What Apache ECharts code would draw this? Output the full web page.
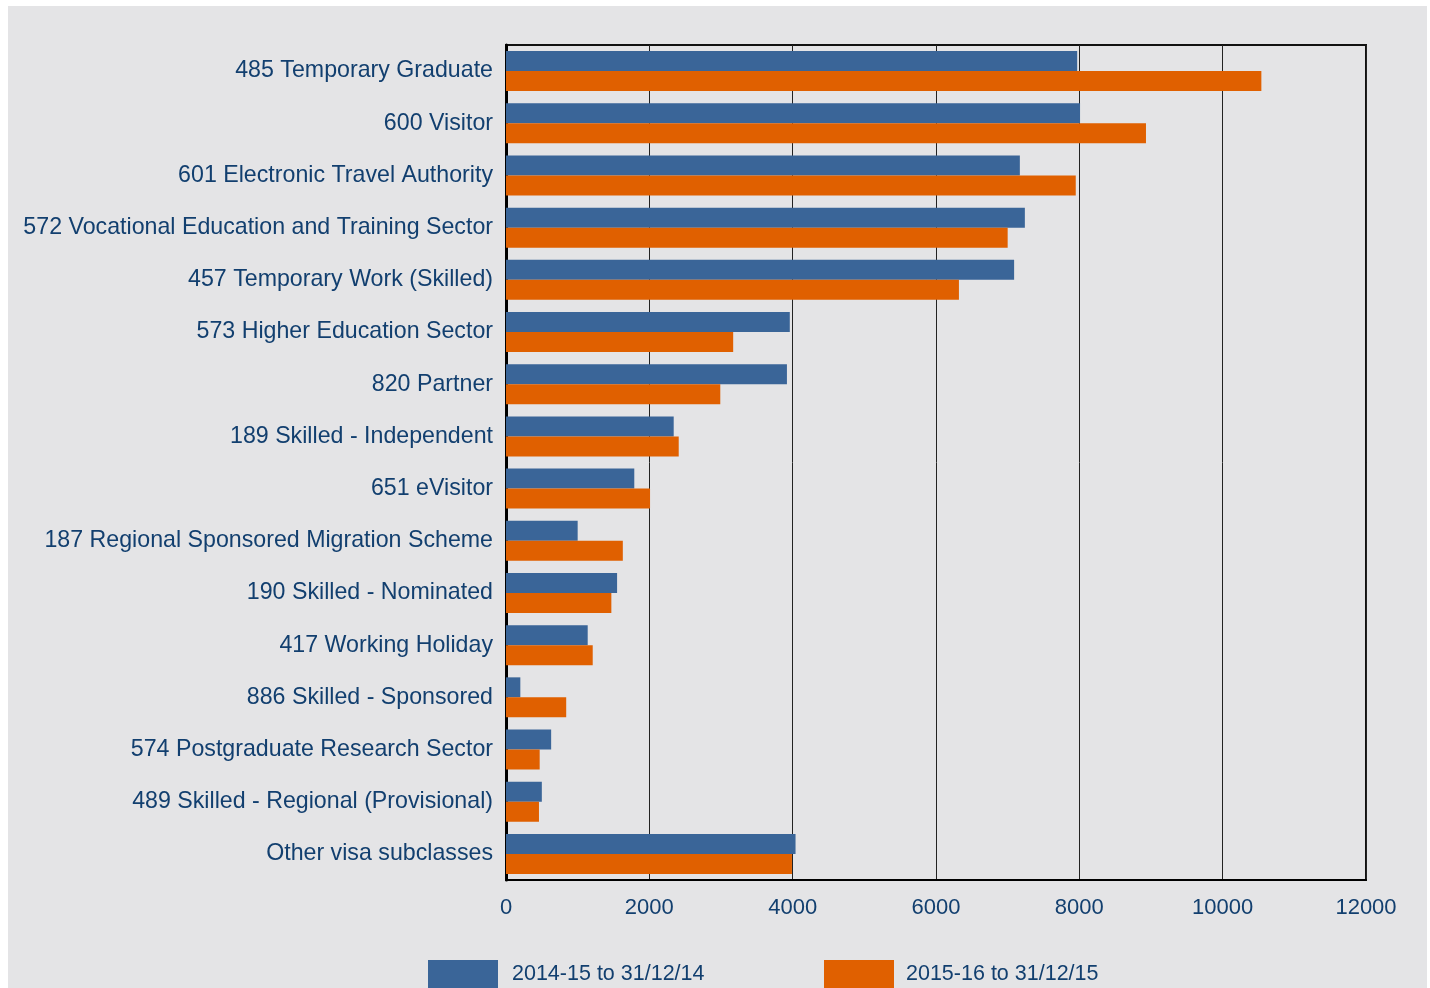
<!DOCTYPE html>
<html>
<head>
<meta charset="utf-8">
<script src="https://cdn.jsdelivr.net/npm/echarts@6/dist/echarts.min.js"></script>
<style>
  html, body { margin: 0; padding: 0; background: #ffffff; }
  #panel { position: absolute; left: 8px; top: 6px; width: 1419px; height: 982px; background: #e4e4e6; }
  #chart { width: 1419px; height: 982px; }
</style>
</head>
<body>
<div id="panel"><div id="chart"></div></div>
<script>
// Visa subclasses, listed top to bottom
const categories = [
  '485 Temporary Graduate',
  '600 Visitor',
  '601 Electronic Travel Authority',
  '572 Vocational Education and Training Sector',
  '457 Temporary Work (Skilled)',
  '573 Higher Education Sector',
  '820 Partner',
  '189 Skilled - Independent',
  '651 eVisitor',
  '187 Regional Sponsored Migration Scheme',
  '190 Skilled - Nominated',
  '417 Working Holiday',
  '886 Skilled - Sponsored',
  '574 Postgraduate Research Sector',
  '489 Skilled - Regional (Provisional)',
  'Other visa subclasses'
];

const seriesNames = ['2014-15 to 31/12/14', '2015-16 to 31/12/15'];

const values2014 = [7970, 8010, 7170, 7240, 7090, 3960, 3920, 2340, 1790, 1000, 1550, 1140, 200, 630, 500, 4040];
const values2015 = [10540, 8930, 7950, 7000, 6320, 3170, 2990, 2410, 2010, 1630, 1470, 1210, 840, 470, 460, 3990];

const xTicks = [0, 2000, 4000, 6000, 8000, 10000, 12000];

const textColor = '#123f6f';
const font = 'Liberation Sans, Arial, sans-serif';

const chart = echarts.init(document.getElementById('chart'));
chart.setOption({
  backgroundColor: '#e4e4e6',
  animation: false,
  grid: {
    left: 498, right: 61, top: 39, bottom: 108,
    show: true, borderColor: '#111', borderWidth: 2, backgroundColor: 'transparent'
  },
  legend: [
    {
      data: [seriesNames[0]], left: 420, top: 954, padding: 0,
      itemWidth: 70, itemHeight: 28, icon: 'rect',
      textStyle: { color: textColor, fontSize: 21.5, fontFamily: font, padding: [4, 0, 0, 9] }
    },
    {
      data: [seriesNames[1]], left: 816, top: 954, padding: 0,
      itemWidth: 70, itemHeight: 28, icon: 'rect',
      textStyle: { color: textColor, fontSize: 21.5, fontFamily: font, padding: [4, 0, 0, 7] }
    }
  ],
  xAxis: {
    type: 'value', min: xTicks[0], max: xTicks[xTicks.length - 1], interval: 2000,
    axisLine: { show: true, lineStyle: { color: '#000', width: 2 } },
    axisTick: { show: false },
    splitLine: { show: true, lineStyle: { color: '#222', width: 1 } },
    axisLabel: {
      color: textColor, fontSize: 22, fontFamily: font, margin: 17,
      formatter: v => String(v)
    }
  },
  yAxis: {
    type: 'category', data: categories, inverse: true,
    axisLine: { show: true, lineStyle: { color: '#000', width: 3 } },
    axisTick: { show: false },
    axisLabel: { color: textColor, fontSize: 23.2, fontFamily: font, margin: 13, padding: [5, 0, 0, 0] }
  },
  series: [
    {
      name: seriesNames[0], type: 'bar', data: values2014,
      barWidth: 20, barGap: '0%', itemStyle: { color: '#3a6598' }
    },
    {
      name: seriesNames[1], type: 'bar', data: values2015,
      barWidth: 20, barGap: '0%', itemStyle: { color: '#e06000' }
    }
  ]
});
</script>
</body>
</html>
